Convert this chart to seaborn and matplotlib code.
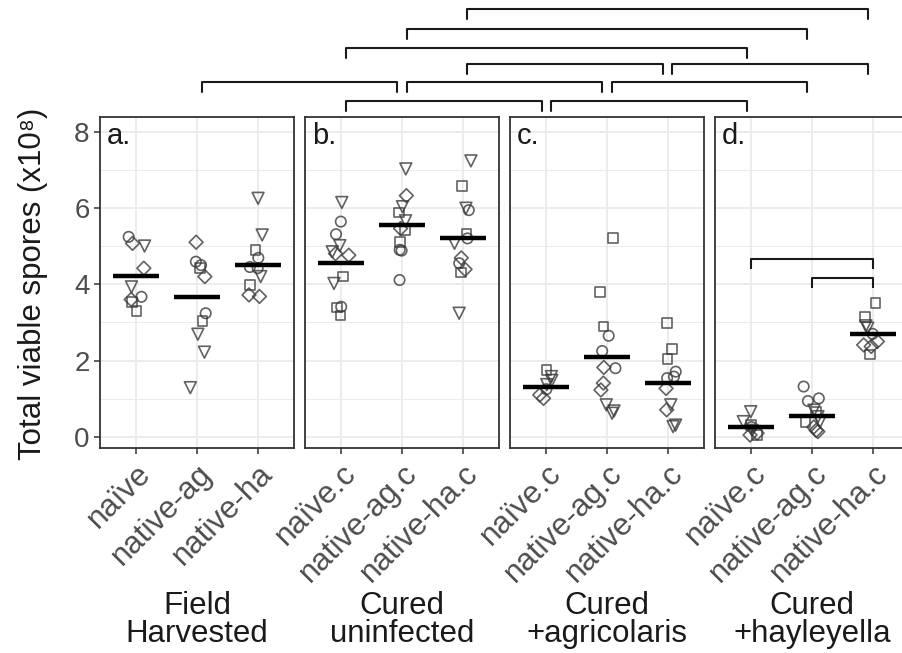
import matplotlib
matplotlib.use("Agg")
import matplotlib.pyplot as plt
import seaborn as sns
import numpy as np
import pandas as pd
from matplotlib.lines import Line2D

# ---- data (total viable spores, x10^8) ----
panel_tags = ["a.", "b.", "c.", "d."]
group_names = ["Field\nHarvested", "Cured\nuninfected", "Cured\n+agricolaris", "Cured\n+hayleyella"]
treatments = [
    ["naïve", "native-ag", "native-ha"],
    ["naïve.c", "native-ag.c", "native-ha.c"],
    ["naïve.c", "native-ag.c", "native-ha.c"],
    ["naïve.c", "native-ag.c", "native-ha.c"],
]

# one list per treatment; source letters: c=circle, s=square, d=diamond, t=triangle
spores_a = [[5.24, 5.07, 5.00, 4.42, 3.93, 3.67, 3.54, 3.60, 3.30],
            [5.10, 4.59, 4.50, 4.43, 4.20, 3.24, 3.04, 2.69, 2.22, 1.29],
            [6.25, 5.29, 4.90, 4.69, 4.42, 4.45, 4.20, 3.98, 3.72, 3.68]]
source_a = ["cdtdtcsds", "dccsdcsttt", "ttsccctsdd"]

spores_b = [[6.14, 5.64, 5.31, 5.01, 4.76, 4.80, 4.85, 4.20, 4.02, 3.41, 3.39, 3.18],
            [7.02, 6.32, 6.03, 5.88, 5.66, 5.46, 5.42, 5.11, 4.90, 4.88, 4.11],
            [7.23, 6.58, 5.99, 5.94, 5.31, 5.20, 5.07, 4.69, 4.55, 4.39, 4.31, 3.24]]
source_b = ["tcctddtstcss", "tdtstdssccc", "tstcsctdcdst"]

spores_c = [[1.75, 1.58, 1.48, 1.37, 1.25, 1.10, 1.01],
            [5.22, 3.79, 2.89, 2.65, 2.25, 1.80, 1.82, 1.41, 1.23, 0.84, 0.62, 0.68],
            [2.98, 2.30, 2.04, 1.71, 1.58, 1.54, 1.27, 0.84, 0.71, 0.27, 0.31]]
source_c = ["stttcdd", "ssscccdddttt", "ssscccdtdtt"]

spores_d = [[0.66, 0.40, 0.31, 0.26, 0.17, 0.10, 0.05, 0.05],
            [1.32, 1.01, 0.94, 0.70, 0.66, 0.53, 0.40, 0.40, 0.26, 0.17, 0.14],
            [3.50, 3.15, 2.91, 2.85, 2.70, 2.50, 2.41, 2.37, 2.16]]
source_d = ["ttsctdds", "ccctsttsddd", "ssttcddds"]

means_a = [4.22, 3.67, 4.50]
means_b = [4.55, 5.55, 5.22]
means_c = [1.32, 2.10, 1.40]
means_d = [0.25, 0.55, 2.69]

spores = [spores_a, spores_b, spores_c, spores_d]
sources = [source_a, source_b, source_c, source_d]
means = [means_a, means_b, means_c, means_d]

# significance brackets between panels: (panel, treatment) -> (panel, treatment)
brackets_between = [
    [((1, 0), (2, 0)), ((2, 0), (3, 0))],
    [((0, 1), (1, 1)), ((1, 1), (2, 1)), ((2, 1), (3, 1))],
    [((1, 2), (2, 2)), ((2, 2), (3, 2))],
    [((1, 0), (3, 0))],
    [((1, 1), (3, 1))],
    [((1, 2), (3, 2))],
]
# brackets inside panel d
brackets_d = [(0, 2), (1, 2)]

markers = {"c": "o", "s": "s", "d": "D", "t": "v"}
msizes = {"c": 7.5, "s": 7.0, "d": 7.0, "t": 8.5}

# ---- style ----
sns.set_theme(style="white")
plt.rcParams["font.family"] = ["Liberation Sans", "DejaVu Sans"]
np.random.seed(7)

fig = plt.figure(figsize=(9.03, 6.53), dpi=100)
W, H = 903.0, 653.0
lefts = [100, 305, 510, 715]
pw, bottom, ph = 194.0, 205.0, 331.0

edge = "#3a3a3a"
frame = "#333333"
grid = "#EBEBEB"
axes = []
for i in range(4):
    ax = fig.add_axes([lefts[i] / W, bottom / H, pw / W, ph / H])
    cats = treatments[i]
    rows = []
    for j, cat in enumerate(cats):
        for v, s in zip(spores[i][j], sources[i][j]):
            rows.append((cat, v, s))
    df = pd.DataFrame(rows, columns=["treatment", "spores", "source"])

    for s, m in markers.items():
        sub = df[df.source == s]
        sns.stripplot(data=sub, x="treatment", y="spores", order=cats, ax=ax,
                      jitter=0.15, marker=m, size=msizes[s], color=edge,
                      facecolor="none", edgecolor=edge, linewidth=1.2,
                      alpha=0.8, zorder=3)

    x = np.arange(3)
    ax.hlines(means[i], x - 0.38, x + 0.38, color="black", lw=3.2, zorder=4)

    ax.set_xlim(-0.6, 2.6)
    ax.set_ylim(-0.29, 8.38)
    ax.set_yticks([0, 2, 4, 6, 8])
    ax.set_yticks([1, 3, 5, 7], minor=True)
    ax.set_xticks(x)
    ax.set_xticklabels(cats, rotation=45, ha="right", va="top",
                       rotation_mode="anchor", fontsize=22.5)
    ax.set_xlabel("")
    ax.set_ylabel("")
    ax.grid(True, which="major", color=grid, lw=1.3, zorder=0)
    ax.grid(True, which="minor", axis="y", color=grid, lw=0.7, zorder=0)
    ax.set_axisbelow(True)
    for sp in ax.spines.values():
        sp.set_color(frame)
        sp.set_linewidth(1.3)
    ax.tick_params(axis="both", which="major", length=4, width=1.1, color=frame,
                   labelcolor="#4D4D4D", bottom=True, left=(i == 0),
                   labelleft=(i == 0))
    ax.tick_params(axis="y", labelsize=20)
    ax.tick_params(axis="y", which="minor", length=0)
    ax.text(0.035, 0.985, panel_tags[i], transform=ax.transAxes, ha="left",
            va="top", fontsize=21, color="#1a1a1a")
    axes.append(ax)

    pos = ax.get_position()
    fig.text(pos.x0 + pw / W / 2, 1 - 620 / H, group_names[i], ha="center",
             va="center", fontsize=22.5, linespacing=0.9, color="#1a1a1a")

# brackets inside panel d
axd = axes[3]
for (x0, x1), lvl in zip(brackets_d, [4.66, 4.16]):
    axd.plot([x0, x0, x1, x1], [lvl - 0.25, lvl, lvl, lvl - 0.25],
             color="#1a1a1a", lw=1.5, zorder=5, solid_capstyle="butt")

# brackets between panels, drawn in figure space
inv = fig.transFigure.inverted()


def to_fig(ax, xv, yv):
    return inv.transform(ax.transData.transform((xv, yv)))


levels = [8.80, 9.29, 9.76, 10.18, 10.68, 11.20]
shrink, leg = 0.08, 0.26
for lvl, row in zip(levels, brackets_between):
    for (p0, t0), (p1, t1) in row:
        xa, ya = to_fig(axes[p0], t0 + shrink, lvl)
        xb, yb = to_fig(axes[p1], t1 - shrink, lvl)
        _, yl = to_fig(axes[p0], t0, lvl - leg)
        fig.add_artist(Line2D([xa, xa, xb, xb], [yl, ya, yb, yl],
                              color="#1a1a1a", lw=1.5, transform=fig.transFigure))

fig.text(33 / W, 1 - 284 / H, "Total viable spores (x10⁸)", rotation=90,
         ha="center", va="center", fontsize=22.5, color="#1a1a1a")

fig.savefig("out.png", dpi=100)
